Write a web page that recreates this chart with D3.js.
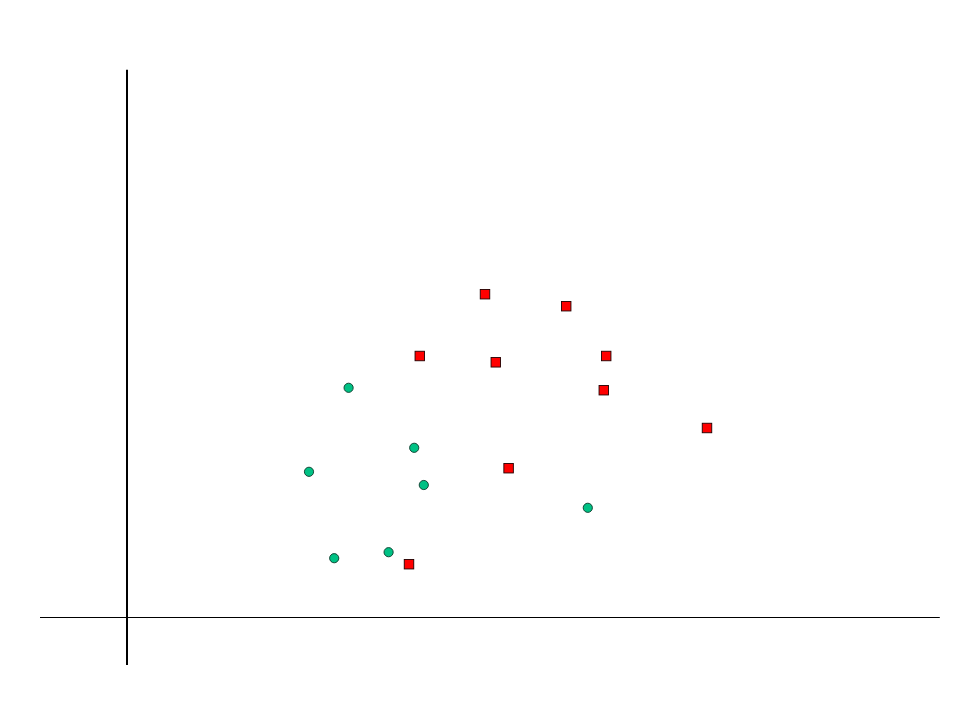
<!DOCTYPE html>
<html>
<head>
<meta charset="utf-8">
<script src="https://cdn.jsdelivr.net/npm/d3@7"></script>
<style>
  html, body { margin: 0; padding: 0; background: #fff; }
  svg { display: block; }
</style>
</head>
<body>
<script>
// Data (arbitrary units, origin where axes cross)
const redX   = [44.75, 54.9, 36.6, 46.1, 59.9, 59.6, 47.7, 35.25, 72.5];
const redY   = [53.8, 51.8, 43.5, 42.45, 43.5, 37.8, 24.8, 8.8, 31.5];
const greenX = [27.7, 35.9, 22.75, 37.1, 57.6, 32.7, 25.9];
const greenY = [38.2, 28.2, 24.2, 22.0, 18.2, 10.8, 9.8];
const xAxisExtent = [-10.875, 101.6];
const yAxisExtent = [-8, 91.2];

const W = 960, H = 720;
const svg = d3.select("body").append("svg").attr("width", W).attr("height", H);

const x = d3.scaleLinear().domain([0, 100]).range([127, 927]);
const y = d3.scaleLinear().domain([0, 100]).range([617, 17]);

// axes lines
svg.append("line")
  .attr("x1", x(xAxisExtent[0])).attr("x2", x(xAxisExtent[1]))
  .attr("y1", y(0) + 0.5).attr("y2", y(0) + 0.5)
  .attr("stroke", "#000").attr("stroke-width", 1);
svg.append("line")
  .attr("x1", x(0)).attr("x2", x(0))
  .attr("y1", y(yAxisExtent[0])).attr("y2", y(yAxisExtent[1]))
  .attr("stroke", "#000").attr("stroke-width", 2);

const greens = d3.zip(greenX, greenY);
const reds = d3.zip(redX, redY);

svg.append("g").selectAll("circle").data(greens).join("circle")
  .attr("cx", d => x(d[0])).attr("cy", d => y(d[1]))
  .attr("r", 4.6)
  .attr("fill", "#00c184").attr("stroke", "#0a3a2a").attr("stroke-width", 0.9);

const s = 9.5;
svg.append("g").selectAll("rect").data(reds).join("rect")
  .attr("x", d => x(d[0]) - s / 2).attr("y", d => y(d[1]) - s / 2)
  .attr("width", s).attr("height", s)
  .attr("fill", "#ff0000").attr("stroke", "#200").attr("stroke-width", 0.9);
</script>
</body>
</html>
